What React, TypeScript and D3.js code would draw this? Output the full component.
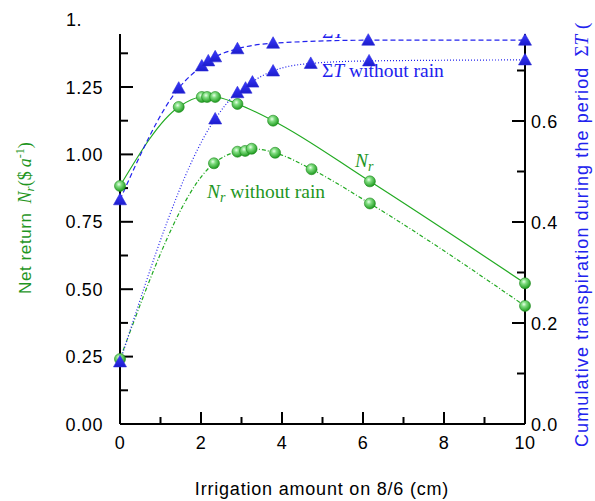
import React from "react";
import * as d3 from "d3";

// Irrigation amounts (cm) and net return (left axis)
const nrX = [0, 1.45, 2.02, 2.15, 2.35, 2.9, 3.78, 6.17, 10];
const nrY = [0.883, 1.176, 1.213, 1.213, 1.213, 1.187, 1.125, 0.9, 0.522];

const nrDryX = [0, 2.32, 2.9, 3.09, 3.25, 3.83, 4.73, 6.17, 10];
const nrDryY = [0.241, 0.967, 1.01, 1.013, 1.021, 1.006, 0.945, 0.818, 0.438];

// Cumulative transpiration (right axis)
const stX = [0, 1.45, 2.02, 2.18, 2.35, 2.9, 3.78, 6.13, 10];
const stY = [0.444, 0.665, 0.709, 0.719, 0.727, 0.743, 0.754, 0.76, 0.76];

const stDryX = [0, 2.35, 2.9, 3.1, 3.27, 3.78, 4.71, 6.15, 10];
const stDryY = [0.123, 0.604, 0.656, 0.665, 0.677, 0.699, 0.714, 0.719, 0.721];

const xTicks = [0, 2, 4, 6, 8, 10];
const xMinor = [1, 3, 5, 7, 9];
const leftTicks = [0, 0.25, 0.5, 0.75, 1.0, 1.25];
const leftMinor = [0.125, 0.375, 0.625, 0.875, 1.125, 1.375];
const rightTicks = [0, 0.2, 0.4, 0.6];
const rightMinor = [0.1, 0.3, 0.5, 0.7];

const GREEN = "#22aa22";
const GREEN_TXT = "#1f961f";
const BLUE = "#2222ee";

const x = d3.scaleLinear().domain([0, 10]).range([120, 525]);
const yL = d3.scaleLinear().domain([0, 1.5]).range([424, 19.6]);
const yR = d3.scaleLinear().domain([0, 0.8]).range([424, 20]);

const TOP = 34;
const SERIF = "'Liberation Serif', 'Times New Roman', serif";
const SANS = "'Liberation Sans', Arial, sans-serif";

function pts(xs: number[], ys: number[]): [number, number][] {
  return xs.map((v, i) => [v, ys[i]]);
}

export default function App() {
  const lineL = d3
    .line<[number, number]>()
    .x((d) => x(d[0]))
    .y((d) => yL(d[1]))
    .curve(d3.curveMonotoneX);
  const lineR = d3
    .line<[number, number]>()
    .x((d) => x(d[0]))
    .y((d) => yR(d[1]))
    .curve(d3.curveMonotoneX);

  const nr = pts(nrX, nrY);
  const nrDry = pts(nrDryX, nrDryY);
  const st = pts(stX, stY);
  const stDry = pts(stDryX, stDryY);

  const tickFont = {
    fontFamily: SANS,
    fontSize: 18,
    letterSpacing: 0.6,
  };

  const tri = (cx: number, cy: number, key: string) => (
    <path
      key={key}
      d={`M${cx},${cy - 6.5}L${cx + 6.5},${cy + 5}L${cx - 6.5},${cy + 5}Z`}
      fill="url(#triGrad)"
      stroke="#2a2ad8"
      strokeWidth={0.6}
    />
  );
  const dot = (cx: number, cy: number, key: string) => (
    <circle key={key} cx={cx} cy={cy} r={5.5} fill="url(#dotGrad)" stroke="#1d8a1d" strokeWidth={0.6} />
  );

  return (
    <svg
      width={595}
      height={501}
      style={{ position: "absolute", left: 0, top: 0, background: "#fff" }}
    >
      <defs>
        <radialGradient id="dotGrad" cx="0.4" cy="0.35" r="0.65">
          <stop offset="0%" stopColor="#e8ffe8" />
          <stop offset="35%" stopColor="#7fdc7f" />
          <stop offset="100%" stopColor="#1e9a1e" />
        </radialGradient>
        <linearGradient id="triGrad" x1="0" y1="0" x2="0" y2="1">
          <stop offset="0%" stopColor="#3a3aff" />
          <stop offset="100%" stopColor="#1c1ccc" />
        </linearGradient>
        <clipPath id="topClip">
          <rect x={0} y={34} width={595} height={470} />
        </clipPath>
      </defs>

      {/* series lines */}
      <path d={lineL(nr) ?? ""} fill="none" stroke={GREEN} strokeWidth={1.2} />
      <path
        d={lineL(nrDry) ?? ""}
        fill="none"
        stroke={GREEN}
        strokeWidth={1.2}
        strokeDasharray="4,2,1,2"
      />
      <path
        d={lineR(st) ?? ""}
        fill="none"
        stroke={BLUE}
        strokeWidth={1.2}
        strokeDasharray="5,3"
      />
      <path
        d={lineR(stDry) ?? ""}
        fill="none"
        stroke={BLUE}
        strokeWidth={1.2}
        strokeDasharray="1,2"
      />

      {/* axes */}
      <g stroke="#000" strokeWidth={2} fill="none">
        <line x1={x(0)} y1={424} x2={x(10)} y2={424} />
        <line x1={x(0)} y1={424} x2={x(0)} y2={TOP} />
        <line x1={x(10)} y1={424} x2={x(10)} y2={TOP} />
        {xTicks.map((t) => (
          <line key={"xt" + t} x1={x(t)} x2={x(t)} y1={424} y2={412} />
        ))}
        {xMinor.map((t) => (
          <line key={"xm" + t} x1={x(t)} x2={x(t)} y1={424} y2={417} />
        ))}
        {leftTicks.map((t) => (
          <line key={"lt" + t} x1={x(0)} x2={x(0) + 13} y1={yL(t)} y2={yL(t)} />
        ))}
        {leftMinor.map((t) => (
          <line key={"lm" + t} x1={x(0)} x2={x(0) + 8} y1={yL(t)} y2={yL(t)} />
        ))}
        {rightTicks.map((t) => (
          <line key={"rt" + t} x1={x(10)} x2={x(10) - 13} y1={yR(t)} y2={yR(t)} />
        ))}
        {rightMinor.map((t) => (
          <line key={"rm" + t} x1={x(10)} x2={x(10) - 8} y1={yR(t)} y2={yR(t)} />
        ))}
      </g>

      {/* tick labels */}
      <g {...tickFont} fill="#000">
        {xTicks.map((t) => (
          <text key={"xl" + t} x={x(t)} y={449} textAnchor="middle">
            {t}
          </text>
        ))}
        {leftTicks.map((t) => (
          <text key={"ll" + t} x={103} y={yL(t) + 6.5} textAnchor="end">
            {t.toFixed(2)}
          </text>
        ))}
        <text x={66} y={yL(1.5) + 6.5}>1.</text>
        {rightTicks.map((t) => (
          <text key={"rl" + t} x={531} y={yR(t) + 6.5}>
            {t.toFixed(1)}
          </text>
        ))}
      </g>

      {/* markers */}
      {nr.map((d, i) => dot(x(d[0]), yL(d[1]), "n" + i))}
      {nrDry.map((d, i) => dot(x(d[0]), yL(d[1]), "nd" + i))}
      {st.map((d, i) => tri(x(d[0]), yR(d[1]), "s" + i))}
      {stDry.map((d, i) => tri(x(d[0]), yR(d[1]), "sd" + i))}

      {/* series labels */}
      <g fontFamily={SERIF} fontSize={19.5}>
        <text x={355} y={167} fill={GREEN_TXT}>
          <tspan fontStyle="italic">N</tspan>
          <tspan fontStyle="italic" fontSize={14} dy={4}>r</tspan>
        </text>
        <text x={207} y={198} fill={GREEN_TXT}>
          <tspan fontStyle="italic">N</tspan>
          <tspan fontStyle="italic" fontSize={14} dy={4}>r</tspan>
          <tspan dy={-4}> without rain</tspan>
        </text>
        <text x={322} y={77} fill={BLUE}>
          Σ<tspan fontStyle="italic">T</tspan> without rain
        </text>
        <text x={322} y={38} fill={BLUE} clipPath="url(#topClip)">
          Σ<tspan fontStyle="italic">T</tspan>
        </text>
      </g>

      {/* axis titles */}
      <text
        x={322}
        y={495}
        textAnchor="middle"
        fontFamily={SANS}
        fontSize={18}
        letterSpacing={0.8}
      >
        Irrigation amount on 8/6 (cm)
      </text>

      <text
        transform="translate(31,294) rotate(-90)"
        fontFamily={SANS}
        fontSize={17}
        letterSpacing={0.6}
        fill={GREEN_TXT}
      >
        Net return
        <tspan fontFamily={SERIF} fontSize={18} fontStyle="italic" letterSpacing={0} dx={9}>
          N
        </tspan>
        <tspan fontFamily={SERIF} fontStyle="italic" fontSize={13} dy={3} letterSpacing={0}>
          r
        </tspan>
        <tspan fontFamily={SERIF} fontSize={18} dy={-3} letterSpacing={0}>
          ($
        </tspan>
        <tspan fontFamily={SERIF} fontSize={18} fontStyle="italic" letterSpacing={0} dx={4}>
          a
        </tspan>
        <tspan fontFamily={SERIF} fontSize={12} dy={-7} letterSpacing={0}>
          -1
        </tspan>
        <tspan fontFamily={SERIF} fontSize={18} dy={7} letterSpacing={0}>
          )
        </tspan>
      </text>

      <text
        transform="translate(588,447) rotate(-90)"
        fontFamily={SANS}
        fontSize={18}
        letterSpacing={1.1}
        fill={BLUE}
      >
        Cumulative transpiration during the period
        <tspan fontFamily={SERIF} fontSize={19} letterSpacing={0} dx={10}>
          Σ
        </tspan>
        <tspan fontFamily={SERIF} fontSize={19} fontStyle="italic" letterSpacing={0}>
          T
        </tspan>
        <tspan fontFamily={SERIF} fontSize={19} letterSpacing={0} dx={6}>
          (
        </tspan>
      </text>
    </svg>
  );
}
